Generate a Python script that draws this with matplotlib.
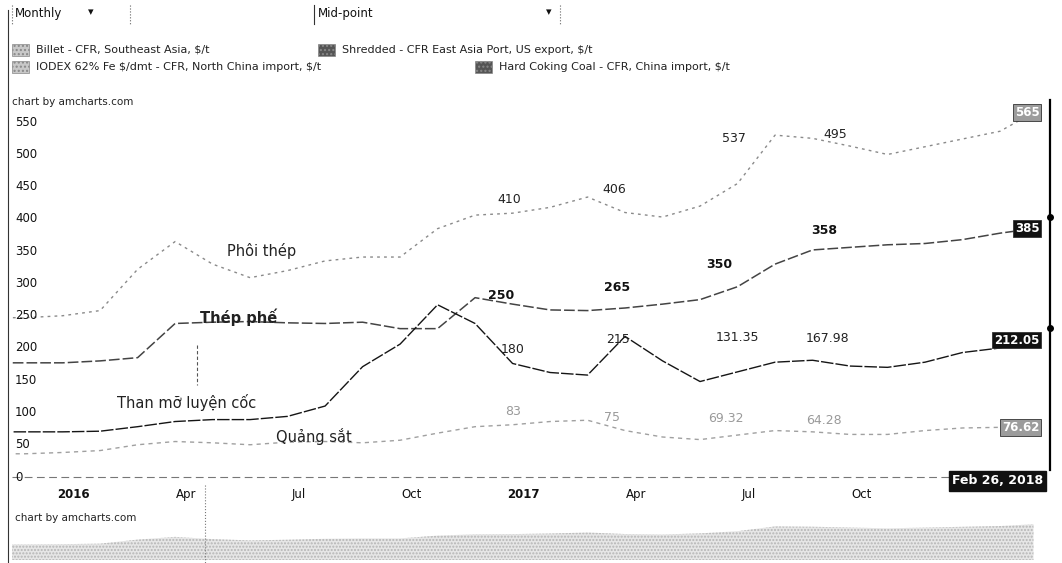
import numpy as np
import pandas as pd
import matplotlib
matplotlib.use('Agg')
import matplotlib.pyplot as plt
from matplotlib.patches import Rectangle
from matplotlib.lines import Line2D
import matplotlib.transforms as mtransforms

plt.rcParams['font.family'] = ['DejaVu Sans']
plt.rcParams['text.parse_math'] = False

# monthly points (last one = cursor date)
dates = ['2015-11-01', '2015-12-01',
         '2016-01-01', '2016-02-01', '2016-03-01', '2016-04-01', '2016-05-01', '2016-06-01',
         '2016-07-01', '2016-08-01', '2016-09-01', '2016-10-01', '2016-11-01', '2016-12-01',
         '2017-01-01', '2017-02-01', '2017-03-01', '2017-04-01', '2017-05-01', '2017-06-01',
         '2017-07-01', '2017-08-01', '2017-09-01', '2017-10-01', '2017-11-01', '2017-12-01',
         '2018-01-01', '2018-02-01', '2018-02-26']

billet = [247, 247, 250, 258, 322, 365, 330, 309, 320, 335, 341, 341, 385, 406,
          409, 418, 434, 410, 403, 420, 455, 530, 525, 513, 500, 512, 524, 536, 565]
shredded = [177, 177, 177, 180, 185, 238, 240, 241, 239, 238, 240, 230, 230, 278,
            268, 259, 258, 262, 268, 275, 295, 330, 352, 356, 360, 362, 368, 378, 385]
coal = [70, 70, 70, 71, 78, 86, 89, 89, 94, 110, 171, 206, 267, 238,
        176, 162, 158, 218, 180, 148, 163, 178, 181, 172, 170, 178, 193, 200, 212.05]
iron_ore = [36, 36, 38, 41, 50, 55, 53, 50, 54, 55, 53, 57, 68, 78,
            81, 86, 88, 72, 62, 58, 65, 72, 70, 66, 66, 72, 76, 77, 76.62]

end_labels = ['565', '385', '212.05', '76.62']

legend_names = ['Billet - CFR, Southeast Asia, $/t',
                'Shredded - CFR East Asia Port, US export, $/t',
                'IODEX 62% Fe $/dmt - CFR, North China import, $/t',
                'Hard Coking Coal - CFR, China import, $/t']

y_ticks = [0, 50, 100, 150, 200, 250, 300, 350, 400, 450, 500, 550]
x_tick_dates = ['2016-01-01', '2016-04-01', '2016-07-01', '2016-10-01',
                '2017-01-01', '2017-04-01', '2017-07-01', '2017-10-01']
x_tick_labels = ['2016', 'Apr', 'Jul', 'Oct', '2017', 'Apr', 'Jul', 'Oct']

# hand written notes on the chart: (month position, level, text)
series_names = [(5.3, 351, 'Phôi thép'), (4.7, 248, 'Thép phế'),
                (3.3, 115, 'Than mỡ luyện cốc'), (6.7, 63, 'Quảng sắt')]
billet_notes = [(11.9, 430, '410'), (14.7, 446, '406'), (17.9, 524, '537'), (20.6, 531, '495')]
scrap_notes = [(11.7, 281, '250'), (14.8, 294, '265'), (17.5, 329, '350'), (20.3, 382, '358')]
coal_notes = [(12.0, 197, '180'), (14.8, 213, '215'), (18.0, 217, '131.35'), (20.4, 215, '167.98')]
ore_notes = [(12.0, 101, '83'), (14.65, 92, '75'), (17.7, 90, '69.32'), (20.3, 88, '64.28')]


def to_month(s):
    d = pd.Timestamp(s)
    return (d.year - 2016) * 12 + (d.month - 1) + (d.day - 1) / d.days_in_month


m = np.array([to_month(d) for d in dates])
tick_m = [to_month(d) for d in x_tick_dates]

W, H = 1062, 563
fig = plt.figure(figsize=(W / 100, H / 100), dpi=100)


def fx(px):
    return px / W


def fy(py):
    return 1 - py / H


ax = fig.add_axes([fx(12), fy(483), fx(1045) - fx(12), fy(105) - fy(483)])
ax.set_xlim(-1.35, 26.2)
ax.set_ylim(-9.3, 576.7)
ax.axis('off')

ax.plot(m, billet, color='#8a8a8a', lw=1.0, ls=(0, (2, 3)))
ax.plot(m, shredded, color='#444444', lw=1.1, ls=(0, (7, 2)))
ax.plot(m, coal, color='#151515', lw=1.0, ls=(0, (9, 1.5)))
ax.plot(m, iron_ore, color='#a0a0a0', lw=1.0, ls=(0, (3, 3)))

ax.axhline(0, color='#777777', lw=0.8, ls=(0, (7, 4)))

# y labels inside the plot
ytr = mtransforms.blended_transform_factory(ax.transAxes, ax.transData)
for v in y_ticks:
    ax.text(0.003, v, str(v), transform=ytr, ha='left', va='center',
            fontsize=8.5, color='#111111')

# x labels
xtr = mtransforms.blended_transform_factory(ax.transData, ax.transAxes)
for t, lab in zip(tick_m, x_tick_labels):
    bold = lab.isdigit()
    ax.text(t + 0.3, -0.03, lab, transform=xtr, ha='center', va='center',
            fontsize=8.5, fontweight='bold' if bold else 'normal', color='#111111')

# notes
for x, y, s in series_names:
    ax.text(x, y, s, ha='center', va='center', fontsize=10.5,
            fontweight='bold' if s == 'Thép phế' else 'normal', color='#222222')
for x, y, s in billet_notes:
    ax.text(x, y, s, ha='center', va='center', fontsize=9, color='#222222')
for x, y, s in scrap_notes:
    ax.text(x, y, s, ha='center', va='center', fontsize=9, fontweight='bold', color='#111111')
for x, y, s in coal_notes:
    ax.text(x, y, s, ha='center', va='center', fontsize=9, color='#222222')
for x, y, s in ore_notes:
    ax.text(x, y, s, ha='center', va='center', fontsize=9, color='#9a9a9a')

# last-value boxes
box_colors = ['#9c9c9c', '#111111', '#111111', '#9c9c9c']
for series, lab, bc in zip([billet, shredded, coal, iron_ore], end_labels, box_colors):
    ax.text(26.05, series[-1], lab, ha='right', va='center', fontsize=8.5,
            fontweight='bold', color='white',
            bbox=dict(boxstyle='square,pad=0.15', fc=bc, ec='#333333', lw=0.6))

# cursor date box
fig.text(fx(1043), fy(481), 'Feb 26, 2018', ha='right', va='center', fontsize=9,
         fontweight='bold', color='white',
         bbox=dict(boxstyle='square,pad=0.25', fc='#111111', ec='#111111'))

# right value axis line and left border
fig.add_artist(Line2D([fx(1050), fx(1050)], [fy(100), fy(470)], color='black', lw=1.6))
for py in [217, 328]:
    fig.add_artist(Line2D([fx(1050)], [fy(py)], marker='o', ms=4, color='black'))
fig.add_artist(Line2D([fx(8), fx(8)], [fy(10), fy(563)], color='#333333', lw=0.8))

# dropdowns
fig.text(fx(15), fy(14), 'Monthly', fontsize=8.5, va='center', color='#111111')
fig.text(fx(88), fy(12), '▾', fontsize=8, va='center', color='#111111')
fig.add_artist(Line2D([fx(12), fx(12)], [fy(5), fy(24)], color='#666666', lw=0.8, ls=':'))
fig.add_artist(Line2D([fx(130), fx(130)], [fy(5), fy(24)], color='#666666', lw=0.8, ls=':'))
fig.text(fx(318), fy(14), 'Mid-point', fontsize=8.5, va='center', color='#111111')
fig.text(fx(546), fy(12), '▾', fontsize=8, va='center', color='#111111')
fig.add_artist(Line2D([fx(314), fx(314)], [fy(5), fy(24)], color='#333333', lw=0.8))
fig.add_artist(Line2D([fx(560), fx(560)], [fy(5), fy(24)], color='#666666', lw=0.8, ls=':'))

# legend
legend_pos = [(12, 50), (318, 50), (12, 67), (475, 67)]
legend_fc = ['#c8c8c8', '#555555', '#c8c8c8', '#555555']
for (px, py), name, c in zip(legend_pos, legend_names, legend_fc):
    fig.add_artist(Rectangle((fx(px), fy(py + 6)), fx(17), 12 / H, fc=c, ec='#888888',
                             lw=0.5, hatch='....', transform=fig.transFigure))
    fig.text(fx(px + 24), fy(py), name, fontsize=8, va='center', color='#222222')

fig.text(fx(12), fy(102), 'chart by amcharts.com', fontsize=7.5, va='center', color='#222222')

# navigator / scrollbar
nav = fig.add_axes([fx(12), fy(560), fx(1045) - fx(12), fy(522) - fy(560)])
nav.set_xlim(-1.35, 26.2)
nav.set_ylim(0, 600)
nav.fill_between(m, 0, billet, color='#e6e6e6', hatch='.....', edgecolor='#b5b5b5', lw=0)
nav.axis('off')
fig.text(fx(15), fy(518), 'chart by amcharts.com', fontsize=7.5, va='center', color='#222222')
fig.add_artist(Line2D([fx(205), fx(205)], [fy(485), fy(563)], color='#777777', lw=0.8, ls=':'))
fig.add_artist(Line2D([fx(197), fx(197)], [fy(345), fy(385)], color='#555555', lw=0.8, ls=(0, (3, 2))))

fig.savefig('out.png', dpi=100)
